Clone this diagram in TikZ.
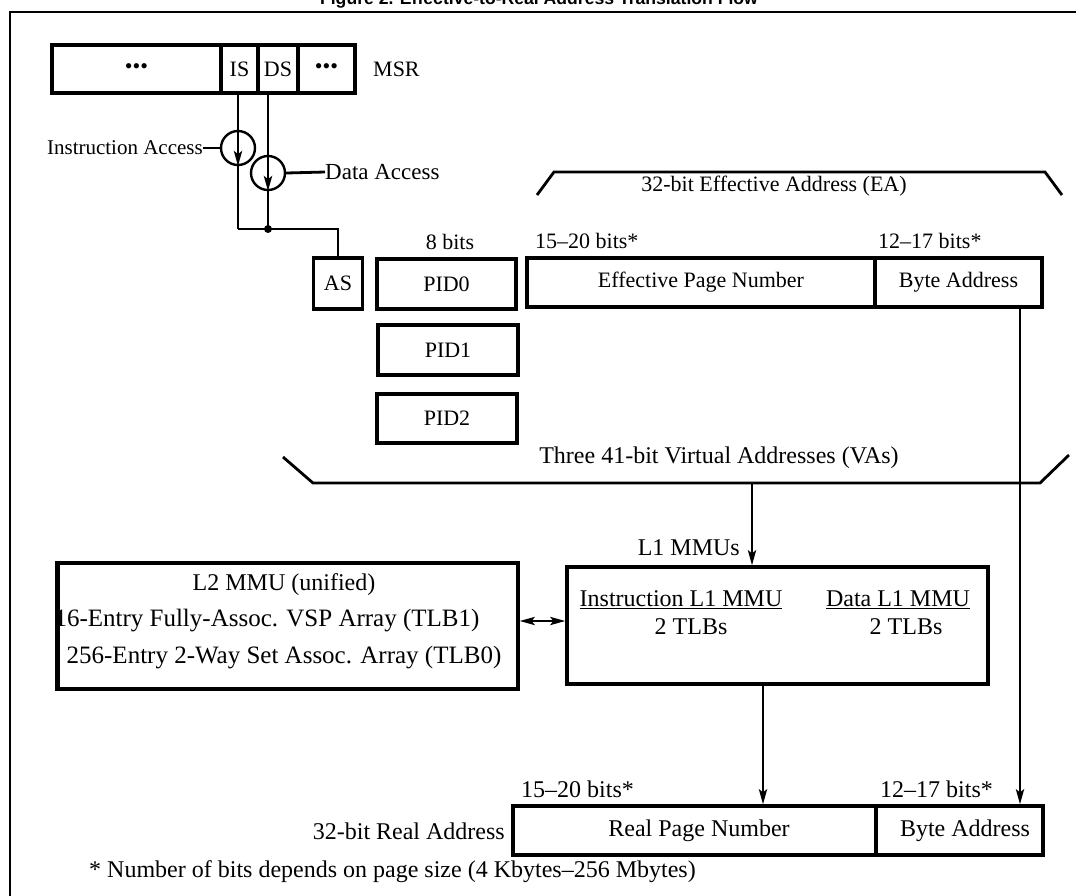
\documentclass[tikz,border=0pt]{standalone}
\usepackage{fontspec}
\setmainfont{Liberation Serif}
\newfontfamily\titlefont{Liberation Sans}
\usetikzlibrary{arrows.meta,calc}
\begin{document}
\begin{tikzpicture}[x=1pt,y=-1pt,
  box/.style={draw,line width=3.2pt,inner sep=0pt,font=\fontsize{22}{26}\selectfont},
  txt/.style={inner sep=0pt,font=\fontsize{22}{26}\selectfont},
  big/.style={inner sep=0pt,font=\fontsize{24}{28}\selectfont},
  wire/.style={line width=2.8pt},
  tip/.style={-{Stealth[length=15pt,width=8pt,inset=3pt]}},
  arr/.style={wire,tip},
  dbl/.style={wire,{Stealth[length=15pt,width=8pt,inset=3pt]}-{Stealth[length=15pt,width=8pt,inset=3pt]}},
  ring/.style={circle,draw,line width=2.4pt,minimum size=34pt,inner sep=0pt},
]
\useasboundingbox (0,0) rectangle (1076,895);
% title and frame
\node[anchor=base,inner sep=0pt,font=\titlefont\bfseries\fontsize{17.6}{20}\selectfont] (title) at (539,4.5) {Figure 2. Effective-to-Real Address Translation Flow};
\draw[line width=2.8pt] (1090,12) -- (10,12) -- (10,905);
% MSR
\node[box,minimum width=169pt,minimum height=48pt] (m1) at (136.5,69) {•••};
\node[box,minimum width=37pt,minimum height=48pt] (is) at (239.5,69) {IS};
\node[box,minimum width=40pt,minimum height=48pt] (ds) at (278,69) {DS};
\node[box,minimum width=57pt,minimum height=48pt] (m4) at (326.5,69) {•••};
\node[txt,anchor=west] (msr) at (373,69) {MSR};
% access circles
\node[ring] (icirc) at (238,148) {};
\node[ring] (dcirc) at (268,173) {};
\coordinate (jI) at (238,229);
\coordinate (jD) at (268,229);
\draw[wire] (icirc.north |- is.south) -- (icirc.north);
\draw[arr] (icirc.north) -- (icirc.south);
\draw[wire] (icirc.south) -- (jI);
\draw[wire] (dcirc.north |- ds.south) -- (dcirc.north);
\draw[arr] (dcirc.north) -- (dcirc.south);
\draw[wire] (dcirc.south) -- (jD);
\node[inner sep=0pt,font=\fontsize{21}{25}\selectfont,anchor=east] (ialbl) at (203,148) {Instruction Access};
\node[inner sep=0pt,font=\fontsize{23}{27}\selectfont,anchor=west] (dalbl) at (325,172) {Data Access};
\draw[wire] (ialbl.east) -- (icirc.west);
\draw[wire] (dcirc.east) -- (dalbl.west);
% AS and PIDs
\node[box,minimum width=49pt,minimum height=51pt] (as) at (338,283.5) {AS};
\draw[wire] (jI) -- (jD) -- (as.north |- jD) -- (as.north);
\fill (jD) circle (4pt);
\node[txt] (eightbits) at (450,242) {8 bits};
\node[box,minimum width=139pt,minimum height=50pt] (pid0) at (446.5,284) {PID0};
\node[box,minimum width=140pt,minimum height=50pt] (pid1) at (448,350) {PID1};
\node[box,minimum width=140pt,minimum height=49pt] (pid2) at (447,418.5) {PID2};
% effective address
\draw[wire] (537,195) -- (554,172) -- (1045,172) -- (1062,195);
\node[txt] (ealbl) at (774,186) {32-bit Effective Address (EA)};
\node[txt,anchor=west] (eabits1) at (535,241) {15–20 bits*};
\node[txt,anchor=west] (eabits2) at (878,241) {12–17 bits*};
\node[box,minimum width=348pt,minimum height=49pt] (epn) at (701,282.5) {Effective Page Number};
\node[box,minimum width=167pt,minimum height=49pt] (eba) at (958.5,282.5) {Byte Address};
% virtual addresses
\coordinate (vaL) at (313,483);
\coordinate (vaR) at (1040,483);
\coordinate (vaj) at (752,483);
\draw[wire] (283,457) -- (vaL) -- (vaR) -- (1069,455);
\node[big] (valbl) at (719,458) {Three 41-bit Virtual Addresses (VAs)};
% MMUs
\node[box,minimum width=460pt,minimum height=126pt] (l2) at (288,626) {};
\node[big] (l2a) at (284,585) {L2 MMU (unified)};
\node[inner sep=0pt,font=\fontsize{25}{29}\selectfont] (l2b) at (267,621) {16-Entry Fully-Assoc. VSP Array (TLB1)};
\node[inner sep=0pt,font=\fontsize{25}{29}\selectfont] (l2c) at (284,658) {256-Entry 2-Way Set Assoc. Array (TLB0)};
\draw[line width=3.2pt] (l2.north west) -- (l2.south west);
\node[box,minimum width=421pt,minimum height=117pt] (l1) at (777.5,625.5) {};
\node[big] (l1a) at (681,600) {\underline{Instruction L1 MMU}};
\node[big] (l1b) at (691,627) {2 TLBs};
\node[big] (l1c) at (898,600) {\underline{Data L1 MMU}};
\node[big] (l1d) at (906,627) {2 TLBs};
\node[big,anchor=east] (l1lbl) at (740,548) {L1 MMUs};
\draw[arr] (vaj) -- (vaj |- l1.north);
\draw[dbl] (l2.east |- l2b) -- (l1.west |- l2b);
% real address
\node[big,anchor=west] (rabits1) at (521,789) {15–20 bits*};
\node[big,anchor=west] (rabits2) at (880,789) {12–17 bits*};
\node[box,minimum width=363pt,minimum height=49pt] (rpn) at (694.5,830.5) {};
\node[box,minimum width=167pt,minimum height=49pt] (rba) at (959.5,830.5) {};
\node[big] (rpnlbl) at (699,831) {Real Page Number};
\node[big] (rbalbl) at (965,831) {Byte Address};
\node[big,anchor=east] (ralbl) at (505,831) {32-bit Real Address};
\draw[arr] (l1.south -| 763,0) -- (rpn.north -| 763,0);
\draw[arr] (eba.south -| 1020,0) -- (rba.north -| 1020,0);
\node[big,anchor=base west] (foot) at (89,877) {* Number of bits depends on page size (4 Kbytes–256 Mbytes)};
\end{tikzpicture}
\end{document}
